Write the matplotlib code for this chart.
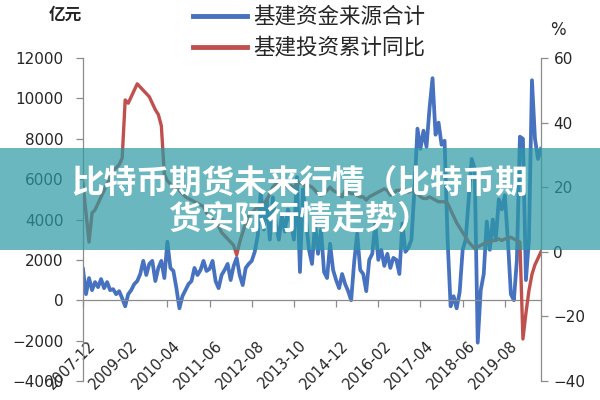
import matplotlib

matplotlib.use("Agg")
import matplotlib.pyplot as plt
import numpy as np
import pandas as pd
from matplotlib import font_manager
from matplotlib.lines import Line2D
from matplotlib.patches import Rectangle
from matplotlib.transforms import ScaledTranslation

START_MONTH = "2007-12"
TICK_STEP = 14

# 基建资金来源合计, 亿元 (left axis), monthly from 2007-12
funding_total = [
    1550, 300, 1100, 500, 900, 650, 1050, 600, 900, 500,
    550, 300, 450, 100, -300, 300, 500, 800, 950, 1300,
    1950, 1250, 1800, 1950, 950, 1600, 1950, 1100, 2900, 1600,
    1450, 600, -400, 200, 500, 800, 950, 1600, 1250, 1500,
    1950, 1450, 1550, 1950, 950, 600, 1250, 1500, 1800, 1000,
    1700, 2100, 1250, 750, 1600, 1800, 1950, 2400, 3200, 5400,
    3500, 5000, 3000, 5100, 3800, 3000, 4200, 3400, 4500, 3800,
    3000, 6100, 1400, 5500, 4000, 2500, 1800, 3800, 2300, 3500,
    1400, 1100, 2800, 1500, 1000, 600, 1300, 800, 450, 0,
    1900, 3300, 1500, 1300, 450, 2000, 2300, 3800, 2000, 2500,
    1700, 2300, 1600, 2100, 2000, 1300, 3800, 2400, 2600, 3000,
    5500, 8500, 7500, 8400, 7600, 9500, 11000, 8200, 8800, 7700,
    7900, 3000, -300, 200, -400, 400, 2500, 3000, 5000, 7000,
    6500, -2100, 500, 1300, 3900, 2500, 4000, 3000, 5000, 4500,
    5200, 3000, 300, 0, 2000, 8100, 8000, 1000, 3000, 10900,
    8000, 7000, 7500,
]

# 基建投资累计同比, % (right axis)
investment_yoy = [
    21, 12, 3, 12, 13, 15, 17, 19, 21, 23,
    25, 26, 27, 29, 47, 46, 48, 50, 52, 51,
    50, 49, 48, 46, 44, 42.5, 39, 24, 22, 21,
    20, 20, 19, 18, 17, 16.5, 16, 15.5, 15, 14.5,
    14, 12, 11, 10, 9, 8, 6, 5, 4, 3,
    2, -1, 3, 6, 9, 11, 12, 13, 14, 14.5,
    15, 16, 18, 20, 21, 21, 20.5, 21, 20, 20.5,
    20, 21, 21.5, 21, 20, 20.5, 20, 19, 18, 17.5,
    18, 19, 20, 19, 18.5, 18, 17, 19, 18.5, 18,
    18, 17.5, 17, 17, 16, 17, 17.5, 18, 18.5, 19,
    19.5, 19, 17.5, 18, 19, 19, 19.5, 19, 18.5, 19,
    18.5, 18, 17, 16.5, 16.5, 17, 16.5, 16, 15.5, 15.5,
    15.5, 15, 13, 11, 9, 7.5, 6, 4.5, 3, 2,
    1, 1.5, 2, 2.5, 3, 3, 3.5, 3.5, 4, 3.5,
    4, 4, 4.5, 4, 3.5, 3, -27, -19, -12, -7,
    -4, -2, 0,
]

left_ticks = [12000, 10000, 8000, 6000, 4000, 2000, 0, -2000, -4000]
right_ticks = [60, 40, 20, 0, -20, -40]
legend_labels = ["基建资金来源合计", "基建投资累计同比"]
banner_lines = ["比特币期货未来行情（比特币期", "货实际行情走势）"]

BLUE = "#4672c0"
RED = "#c0504d"
SPINE = "#8c8c8c"
TEXT = "#262626"

available = {f.name for f in font_manager.fontManager.ttflist}
num_font = "Liberation Sans Narrow" if "Liberation Sans Narrow" in available else "DejaVu Sans"
num_size = 13 if num_font == "Liberation Sans Narrow" else 11
plt.rcParams["font.family"] = ["Noto Sans CJK SC", "DejaVu Sans"]

months = pd.date_range(START_MONTH, periods=len(funding_total), freq="MS")
x = np.arange(len(months))

fig = plt.figure(figsize=(6, 4), dpi=100)
ax = fig.add_axes([83 / 600, 19 / 400, 458 / 600, 323 / 400])
ax2 = ax.twinx()

ax.plot(x, funding_total, color=BLUE, linewidth=2.7, solid_joinstyle="round")
ax2.plot(x, investment_yoy, color=RED, linewidth=2.4, solid_joinstyle="round")

ax.set_xlim(x[0], x[-1])
ax.set_ylim(-4000, 12000)
ax2.set_ylim(-40, 60)

ax.spines["bottom"].set_position(("data", 0))
for name in ("top", "right"):
    ax.spines[name].set_visible(False)
for name in ("top", "bottom", "left"):
    ax2.spines[name].set_visible(False)
for sp in (ax.spines["left"], ax.spines["bottom"], ax2.spines["right"]):
    sp.set_color(SPINE)
    sp.set_linewidth(0.9)

ax.tick_params(axis="y", direction="out", length=5, width=0.9, color=SPINE, pad=9)
ax.tick_params(axis="x", direction="out", length=5, width=0.9, color=SPINE, pad=22,
               labelrotation=45)
ax2.tick_params(axis="y", direction="out", length=5, width=0.9, color=SPINE, pad=4)

ax.set_yticks(left_ticks)
ax2.set_yticks(right_ticks)
ax.set_yticklabels([f"{v}".replace("-", "\u2212") for v in left_ticks],
                   fontfamily=num_font, fontsize=num_size, color=TEXT)
ax2.set_yticklabels([f"{v}".replace("-", "\u2212") for v in right_ticks],
                    fontfamily=num_font, fontsize=num_size, color=TEXT)

tick_pos = x[::TICK_STEP]
ax.set_xticks(tick_pos)
ax.set_xticklabels([months[i].strftime("%Y-%m") for i in tick_pos],
                   fontfamily=num_font, fontsize=num_size - 0.5, color=TEXT)
shift = ScaledTranslation(0.05, 0, fig.dpi_scale_trans)
for lab in ax.get_xticklabels():
    lab.set_rotation(45)
    lab.set_ha("right")
    lab.set_rotation_mode("anchor")
    lab.set_transform(lab.get_transform() + shift)

# unit labels
fig.text(65 / 600, 1 - 15 / 400, "亿元", ha="center", va="center",
         fontsize=12, fontweight="bold", color=TEXT)
fig.text(558 / 600, 1 - 30 / 400, "%", ha="center", va="center",
         fontsize=12, color=TEXT, fontfamily=num_font)

# legend drawn at the top
for label, color, ypx in zip(legend_labels, (BLUE, RED), (16, 47)):
    yf = 1 - ypx / 400
    fig.add_artist(Line2D([193 / 600, 247 / 600], [yf, yf], color=color,
                          linewidth=3.5, transform=fig.transFigure))
    fig.text(253 / 600, yf, label, ha="left", va="center", fontsize=15.5, color=TEXT)

# semi-transparent title banner across the chart
fig.add_artist(Rectangle((0, 1 - 250 / 400), 1, 102 / 400, transform=fig.transFigure,
                         facecolor=(43 / 255, 153 / 255, 164 / 255), alpha=0.7,
                         edgecolor="none", zorder=10))
for line, ypx in zip(banner_lines, (183, 219)):
    fig.text(0.5, 1 - ypx / 400, line, ha="center", va="center", fontsize=23.5,
             fontweight="bold", color="white", zorder=11)

fig.savefig("out.png", dpi=100)
